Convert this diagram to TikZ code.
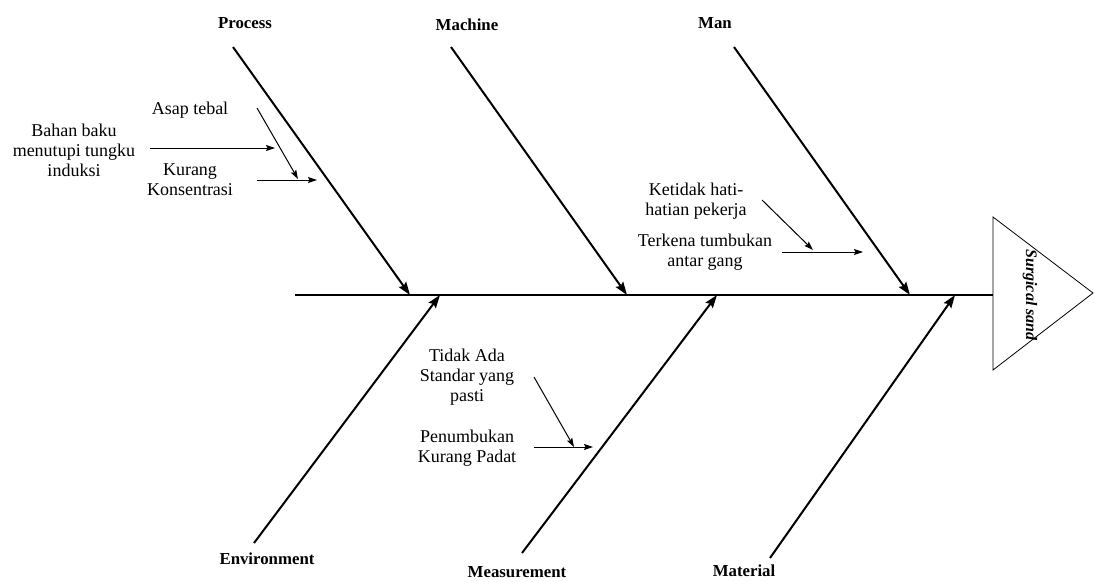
\documentclass[tikz,border=0pt]{standalone}
\usepackage{fontspec}
\setmainfont{Liberation Serif}
\usetikzlibrary{arrows.meta}
\begin{document}
\begin{tikzpicture}[x=1pt,y=-1pt,
  spine/.style={line width=2.6pt},
  bone/.style={line width=2pt,-{Stealth[length=13pt,width=9pt,inset=2pt]}},
  sub/.style={line width=1pt,-{Stealth[length=9pt,width=6pt,inset=1.5pt]}},
  cat/.style={font=\fontsize{16.8}{18}\selectfont\bfseries, inner sep=0pt},
  cause/.style={font=\fontsize{18}{20}\selectfont, align=center, inner sep=0pt},
  head/.style={line width=0.8pt}]
\useasboundingbox (0,0) rectangle (1094,581);

% spine and head
\coordinate (S0) at (295,295);
\coordinate (HA) at (993,217);
\coordinate (HB) at (993,370);
\coordinate (HC) at (1093,293);
\coordinate (HM) at (993,295);
\draw[spine] (S0) -- (HM);
\draw[head] (HA) -- (HC) -- (HB) -- cycle;
\node[font=\fontsize{16}{18}\selectfont\bfseries\itshape, rotate=-90, inner sep=0pt] (effect) at (1030,295) {Surgical sand};

% category bones
\coordinate (P1) at (233,47);  \coordinate (P2) at (410,295);
\coordinate (M1) at (451,47);  \coordinate (M2) at (627,295);
\coordinate (N1) at (734,47);  \coordinate (N2) at (910,295);
\coordinate (E1) at (254,543); \coordinate (E2) at (440,295);
\coordinate (Q1) at (522,553); \coordinate (Q2) at (717,295);
\coordinate (T1) at (770,558); \coordinate (T2) at (955,295);
\draw[bone] (P1) -- (P2);
\draw[bone] (M1) -- (M2);
\draw[bone] (N1) -- (N2);
\draw[bone] (E1) -- (E2);
\draw[bone] (Q1) -- (Q2);
\draw[bone] (T1) -- (T2);

\node[cat] (process) at (245,23) {Process};
\node[cat] (machine) at (467,25) {Machine};
\node[cat] (man) at (715,23) {Man};
\node[cat] (environment) at (267,559) {Environment};
\node[cat] (measurement) at (517,572) {Measurement};
\node[cat] (material) at (744,571) {Material};

% Process causes
\node[cause] (asap) at (190,110) {Asap tebal};
\node[cause] (bahan) at (74,150) {Bahan baku\\menutupi tungku\\induksi};
\node[cause] (kurang) at (190,180) {Kurang\\Konsentrasi};
\coordinate (a1) at (150,148); \coordinate (a2) at (275,148);
\coordinate (b1) at (257,180); \coordinate (b2) at (317,180);
\coordinate (c1) at (257,108); \coordinate (c2) at (298,179);
\draw[sub] (a1) -- (a2);
\draw[sub] (b1) -- (b2);
\draw[sub] (c1) -- (c2);

% Man causes
\node[cause] (ketidak) at (696,201) {Ketidak hati-\\hatian pekerja};
\node[cause] (terkena) at (705,252) {Terkena tumbukan\\antar gang};
\coordinate (d1) at (782,252); \coordinate (d2) at (863,252);
\coordinate (e1) at (762,200); \coordinate (e2) at (813,250);
\draw[sub] (d1) -- (d2);
\draw[sub] (e1) -- (e2);

% Measurement causes
\node[cause] (tidak) at (467,377) {Tidak Ada\\Standar yang\\pasti};
\node[cause] (penumbukan) at (467,448) {Penumbukan\\Kurang Padat};
\coordinate (f1) at (534,447); \coordinate (f2) at (593,447);
\coordinate (g1) at (534,377); \coordinate (g2) at (574,447);
\draw[sub] (f1) -- (f2);
\draw[sub] (g1) -- (g2);
\end{tikzpicture}
\end{document}
